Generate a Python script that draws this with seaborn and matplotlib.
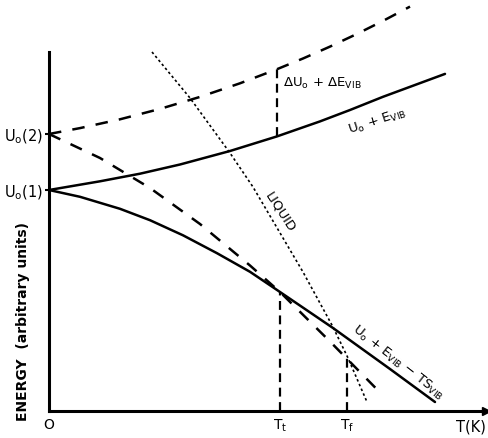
import numpy as np
import pandas as pd
import matplotlib
matplotlib.use("Agg")
import matplotlib.pyplot as plt
import seaborn as sns

# ---- data (arbitrary units) ----
T_upper_dash = [0, .31, .71, 1.11, 1.51, 1.91, 2.28, 2.54, 2.81, 3.08, 3.34, 3.61]
E_upper_dash = [2.77, 2.829, 2.917, 3.021, 3.141, 3.277, 3.418, 3.525, 3.644, 3.771, 3.901, 4.044]

T_upper_solid = [0, .51, .91, 1.31, 1.81, 2.28, 2.71, 3.01, 3.34, 3.96]
E_upper_solid = [2.21, 2.297, 2.373, 2.465, 2.60, 2.746, 2.896, 3.01, 3.142, 3.371]

T_lower_solid = [0, .31, .71, 1.01, 1.34, 1.68, 2.01, 2.31, 2.84, 3.41, 3.86]
E_lower_solid = [2.21, 2.142, 2.022, 1.908, 1.757, 1.578, 1.392, 1.19, 0.83, 0.42, 0.09]

T_lower_dash = [0, .51, 1.01, 1.51, 2.01, 2.31, 2.81, 3.33]
E_lower_dash = [2.77, 2.53, 2.23, 1.87, 1.455, 1.19, 0.695, 0.165]

T_liquid = [1.03, 1.41, 1.81, 2.04, 2.54, 2.84, 2.99, 3.18]
E_liquid = [3.59, 3.13, 2.58, 2.24, 1.39, 0.84, 0.53, 0.09]

U0_levels = [2.21, 2.77]
U0_labels = ["U$_\\mathregular{o}$(1)", "U$_\\mathregular{o}$(2)"]
T_delta = 2.28
T_t, T_f = 2.31, 2.98
E_at_Tt, E_at_Tf = 1.19, 0.56
x_tick_labels = ["O", "T$_\\mathregular{t}$", "T$_\\mathregular{f}$"]

sns.set_style("white")
plt.rcParams['font.family'] = ['DejaVu Sans']
plt.rcParams['text.color'] = 'black'
plt.rcParams['axes.labelcolor'] = 'black'
plt.rcParams['xtick.color'] = 'black'
plt.rcParams['ytick.color'] = 'black'

fig = plt.figure(figsize=(4.89, 4.38), dpi=100)
W, H = 489, 438
ax = fig.add_axes([49 / W, (H - 411) / H, (486 - 49) / W, (411 - 52) / H])
ax.set_xlim(0, 4.37)
ax.set_ylim(0, 3.59)

lw = 1.8
def draw(T, E, **kw):
    df = pd.DataFrame({"T": T, "E": E})
    sns.lineplot(data=df, x="T", y="E", ax=ax, sort=False, color="black",
                 estimator=None, clip_on=False, **kw)
    return ax.lines[-1]

l = draw(T_upper_dash, E_upper_dash, linewidth=lw)
l.set_dashes((5, 4.5))
draw(T_upper_solid, E_upper_solid, linewidth=lw)
draw(T_lower_solid, E_lower_solid, linewidth=lw)
l = draw(T_lower_dash, E_lower_dash, linewidth=lw)
l.set_dashes((5, 4.5))
l = draw(T_liquid, E_liquid, linewidth=1.2)
l.set_dashes((1.5, 1.6))

# vertical connectors
e_lo = np.interp(T_delta, T_upper_solid, E_upper_solid)
e_hi = np.interp(T_delta, T_upper_dash, E_upper_dash)
ax.vlines([T_delta], [e_lo], [e_hi], colors="black", linewidth=1.6,
          linestyles=(0, (4, 2.5)), clip_on=False)
ax.vlines([T_t, T_f], [0, 0], [E_at_Tt, E_at_Tf], colors="black", linewidth=1.6,
          linestyles=(0, (4, 2.5)))

# spines / axes
for s in ["top", "right"]:
    ax.spines[s].set_visible(False)
for s in ["left", "bottom"]:
    ax.spines[s].set_linewidth(2.2)
    ax.spines[s].set_color("black")
ax.plot(1, 0, marker=">", color="black", markersize=6, transform=ax.transAxes,
        clip_on=False)

ax.set_yticks(U0_levels)
ax.set_yticklabels(U0_labels, fontsize=10.5)
ax.set_xticks([0, T_t, T_f])
ax.set_xticklabels(x_tick_labels, fontsize=10)
ax.tick_params(axis="y", length=3, width=1.5, pad=1, left=True)
ax.tick_params(axis="x", length=0, pad=5)
ax.set_xlabel("")
ax.set_ylabel("ENERGY  (arbitrary units)", fontsize=10, fontweight="bold")
ax.yaxis.set_label_coords(-0.043, 0.25)

ax.text(1.0, -0.045, "T(K)", transform=ax.transAxes, ha="right", va="center",
        fontsize=10.5, clip_on=False)

# annotations
ax.text(2.34, 3.28, "$\\Delta$U$_\\mathregular{o}$ + $\\Delta$E$_\\mathregular{VIB}$",
        fontsize=9.5, ha="left", va="center")
ax.text(3.28, 2.90, "U$_\\mathregular{o}$ + E$_\\mathregular{VIB}$",
        fontsize=9.5, ha="center", va="center", rotation=18)
ax.text(2.31, 1.99, "LIQUID", fontsize=9.5, ha="center", va="center",
        rotation=-57)
ax.text(3.49, 0.48, "U$_\\mathregular{o}$ + E$_\\mathregular{VIB}$ $-$ TS$_\\mathregular{VIB}$",
        fontsize=9.5, ha="center", va="center", rotation=-38)

fig.savefig("out.png", dpi=100)
